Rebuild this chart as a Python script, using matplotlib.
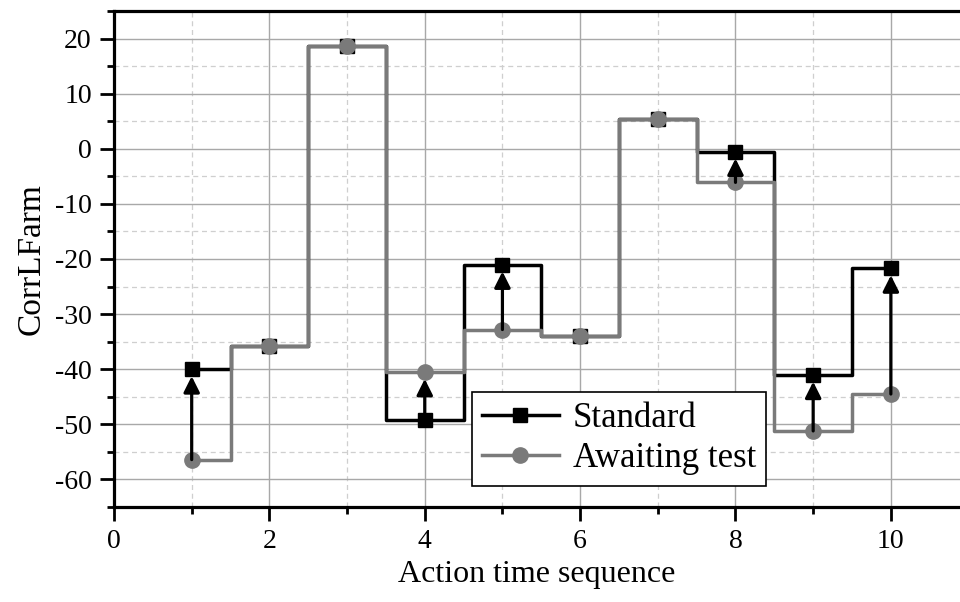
import numpy as np
import matplotlib
matplotlib.use("Agg")
import matplotlib.pyplot as plt
from matplotlib.ticker import MultipleLocator


# Data

seq = [1, 2, 3, 4, 5, 6, 7, 8, 9, 10]
standard = [-40.0, -35.8, 18.6, -49.3, -21.0, -34.0, 5.4, -0.5, -41.0, -21.7]
awaiting = [-56.4, -35.8, 18.6, -40.5, -32.8, -34.0, 5.4, -6.1, -51.2, -44.5]
arrow_at = [1, 4, 5, 8, 9, 10]

series_names = ["Standard", "Awaiting test"]
x_label = "Action time sequence"
y_label = "CorrLFarm"


plt.rcParams["font.family"] = ["Liberation Serif", "DejaVu Serif"]
plt.rcParams["axes.unicode_minus"] = False

fig = plt.figure(figsize=(9.6, 6.02), dpi=100)
ax = fig.add_axes([114 / 960, 95 / 602, 846 / 960, 496 / 602])

gray = "#7a7a7a"

ax.plot(seq, standard, drawstyle="steps-mid", color="black", lw=2.5,
        marker="s", markersize=10, markerfacecolor="black",
        markeredgecolor="black", label=series_names[0], zorder=3)
ax.plot(seq, awaiting, drawstyle="steps-mid", color=gray, lw=2.5,
        marker="o", markersize=11, markerfacecolor=gray,
        markeredgecolor=gray, label=series_names[1], zorder=4)

# arrows from the lower point to the upper one
for x in arrow_at:
    i = seq.index(x)
    lo = min(standard[i], awaiting[i])
    hi = max(standard[i], awaiting[i])
    ax.annotate("", xy=(x, hi), xytext=(x, lo),
                arrowprops=dict(arrowstyle="-|>", color="black", lw=2.3,
                                mutation_scale=24, shrinkA=0, shrinkB=5),
                zorder=5)

ax.set_xlim(0, 10.89)
ax.set_ylim(-65, 25)

ax.xaxis.set_major_locator(MultipleLocator(2))
ax.xaxis.set_minor_locator(MultipleLocator(1))
ax.yaxis.set_major_locator(MultipleLocator(10))
ax.yaxis.set_minor_locator(MultipleLocator(5))

ax.grid(which="major", color="#a8a8a8", lw=1.0, ls="-")
ax.grid(which="minor", color="#cfcfcf", lw=0.9, ls=(0, (4, 3)))
ax.set_axisbelow(True)

ax.spines["right"].set_visible(False)
for s in ["left", "bottom", "top"]:
    ax.spines[s].set_linewidth(2.3)

ax.tick_params(which="major", direction="out", length=10, width=2,
               labelsize=20, pad=6)
ax.tick_params(which="minor", direction="out", length=5, width=2)
ax.tick_params(axis="x", which="both", top=False)

ax.set_xlabel(x_label, fontsize=23, labelpad=4)
ax.set_ylabel(y_label, fontsize=24, labelpad=6)

leg = ax.legend(loc="upper left", bbox_to_anchor=(0.423, 0.232),
                borderaxespad=0, fontsize=25, fancybox=False,
                framealpha=1, edgecolor="black", handlelength=2.2,
                handletextpad=0.4, borderpad=0.3, labelspacing=0.2)
leg.get_frame().set_linewidth(1.2)

fig.savefig("out.png", dpi=100)
